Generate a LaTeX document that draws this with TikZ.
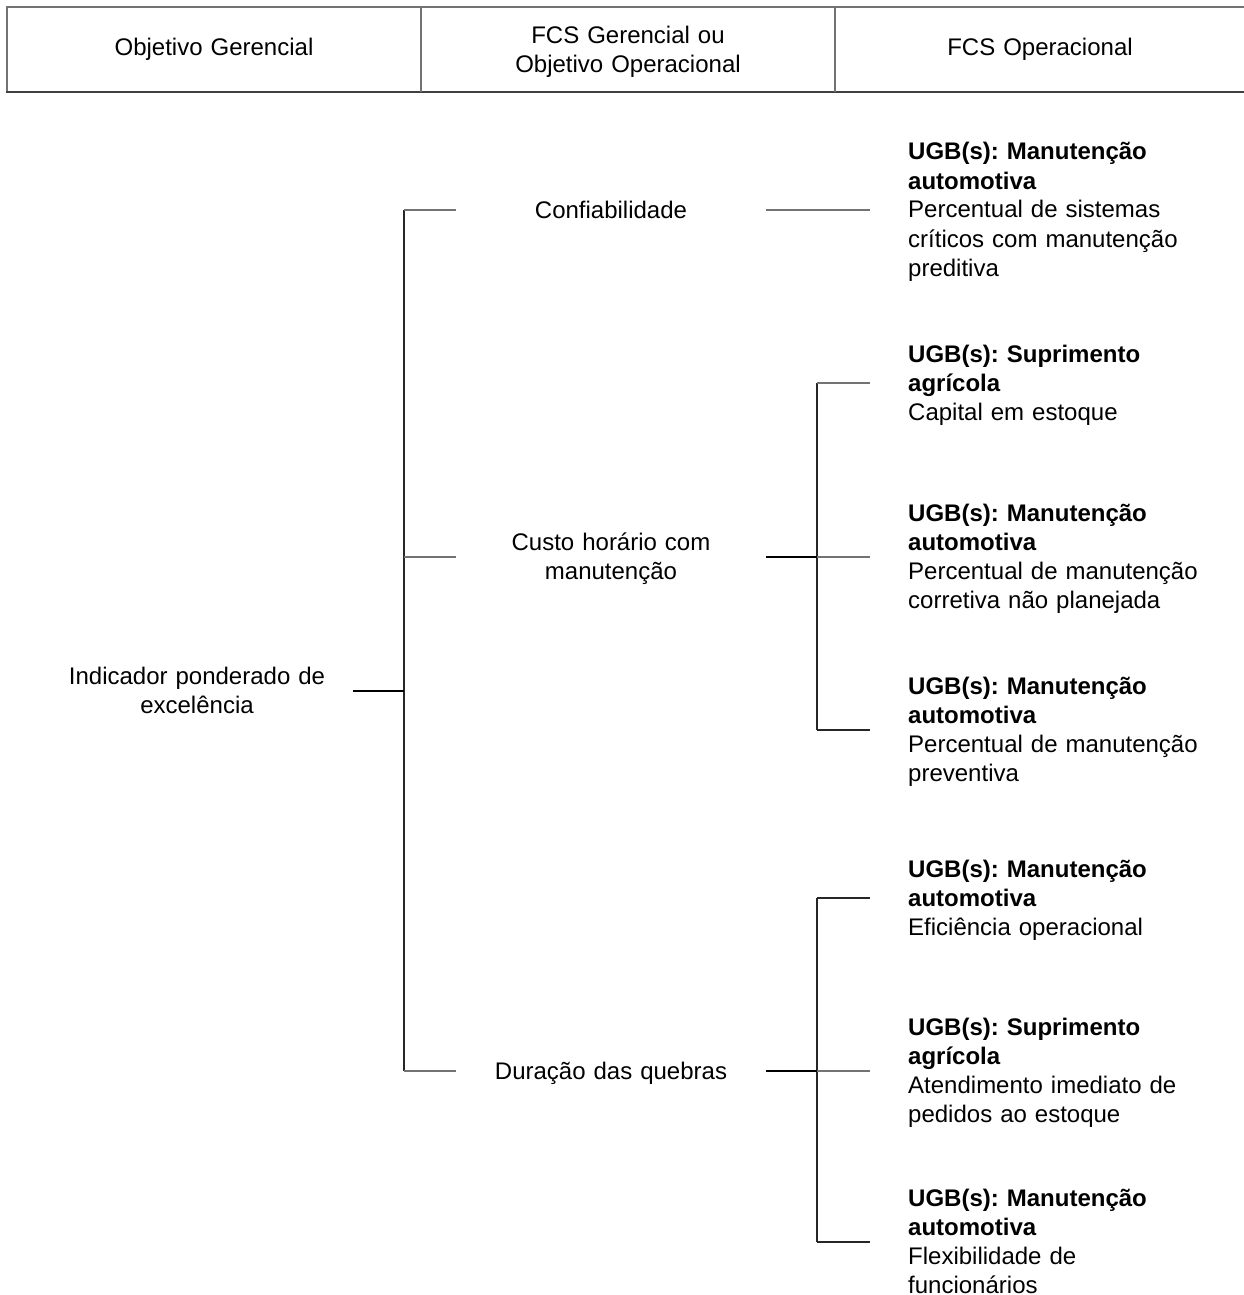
\documentclass[tikz,border=0pt]{standalone}
\usepackage{fontspec}
\setmainfont{Liberation Sans}
\usetikzlibrary{calc}
\frenchspacing
\begin{document}
\begin{tikzpicture}[x=1pt,y=-1pt,
  txt/.style={inner sep=0pt, font=\fontsize{24}{29}\selectfont},
  mid/.style={txt, text width=310pt, align=center, anchor=base},
  rgt/.style={txt, text width=336pt, align=left, anchor=base west},
  hdr/.style={txt, text width=400pt, align=center, anchor=base},
  gl/.style={draw=black!55, line width=1.2pt},
  vl/.style={draw=black!85, line width=1.2pt},
  bl/.style={draw=black, line width=1.8pt}]
\useasboundingbox (0,0) rectangle (1244,1295);
\fill[white] (0,0) rectangle (1244,1295);

% header
\draw[gl] (1244,7) -- (7,7) -- (7,92);
\draw[draw=black!75, line width=1.6pt] (6.4,92) -- (1244,92);
\draw[gl] (421,7) -- (421,92);
\draw[gl] (835,7) -- (835,92);
\node[hdr] (h1) at (214,56) {Objetivo Gerencial};
\node[hdr] (h2) at (628,43.5) {FCS Gerencial ou\\Objetivo Operacional};
\node[hdr] (h3) at (1040,56) {FCS Operacional};

% left column
\node[mid, text width=312pt] (root) at (197,684.5) {Indicador ponderado de\\excelência};

% middle column
\node[mid] (c1) at (611,218) {Confiabilidade};
\node[mid] (c2) at (611,550.5) {Custo horário com\\manutenção};
\node[mid] (c3) at (611,1079) {Duração das quebras};

% right column
\node[rgt] (r1) at (908,160) {\textbf{UGB(s): Manutenção}\\\textbf{automotiva}\\Percentual de sistemas\\críticos com manutenção\\preditiva};
\node[rgt] (r2) at (908,362) {\textbf{UGB(s): Suprimento}\\\textbf{agrícola}\\Capital em estoque};
\node[rgt] (r3) at (908,521.5) {\textbf{UGB(s): Manutenção}\\\textbf{automotiva}\\Percentual de manutenção\\corretiva não planejada};
\node[rgt] (r4) at (908,694.5) {\textbf{UGB(s): Manutenção}\\\textbf{automotiva}\\Percentual de manutenção\\preventiva};
\node[rgt] (r5) at (908,877) {\textbf{UGB(s): Manutenção}\\\textbf{automotiva}\\Eficiência operacional};
\node[rgt] (r6) at (908,1035.5) {\textbf{UGB(s): Suprimento}\\\textbf{agrícola}\\Atendimento imediato de\\pedidos ao estoque};
\node[rgt] (r7) at (908,1206) {\textbf{UGB(s): Manutenção}\\\textbf{automotiva}\\Flexibilidade de\\funcionários};

% junctions
\coordinate (a0) at (404,691);
\coordinate (a1) at (404,210);
\coordinate (a2) at (404,557);
\coordinate (a3) at (404,1071);
\coordinate (b1) at (817,210);
\coordinate (b2) at (817,383);
\coordinate (b3) at (817,557);
\coordinate (b4) at (817,730);
\coordinate (b5) at (817,898);
\coordinate (b6) at (817,1071);
\coordinate (b7) at (817,1242);

% trunk
\draw[vl] (a1) -- (a3);
\draw[bl, line width=1.4pt] (root.east |- a0) -- (a0);
\draw[gl] (a1) -- (c1.west |- a1);
\draw[gl] (a2) -- (c2.west |- a2);
\draw[gl] (a3) -- (c3.west |- a3);

% confiabilidade
\draw[gl] (c1.east |- b1) -- ($(r1.west |- b1)+(-38,0)$);

% custo
\draw[vl] (b2) -- (b4);
\draw[bl] (c2.east |- b3) -- (b3);
\draw[gl] (b2) -- ($(r2.west |- b2)+(-38,0)$);
\draw[gl] (b3) -- ($(r3.west |- b3)+(-38,0)$);
\draw[vl] (b4) -- ($(r4.west |- b4)+(-38,0)$);

% duracao
\draw[vl] (b5) -- (b7);
\draw[bl] (c3.east |- b6) -- (b6);
\draw[vl] (b5) -- ($(r5.west |- b5)+(-38,0)$);
\draw[gl] (b6) -- ($(r6.west |- b6)+(-38,0)$);
\draw[vl] (b7) -- ($(r7.west |- b7)+(-38,0)$);
\end{tikzpicture}
\end{document}
